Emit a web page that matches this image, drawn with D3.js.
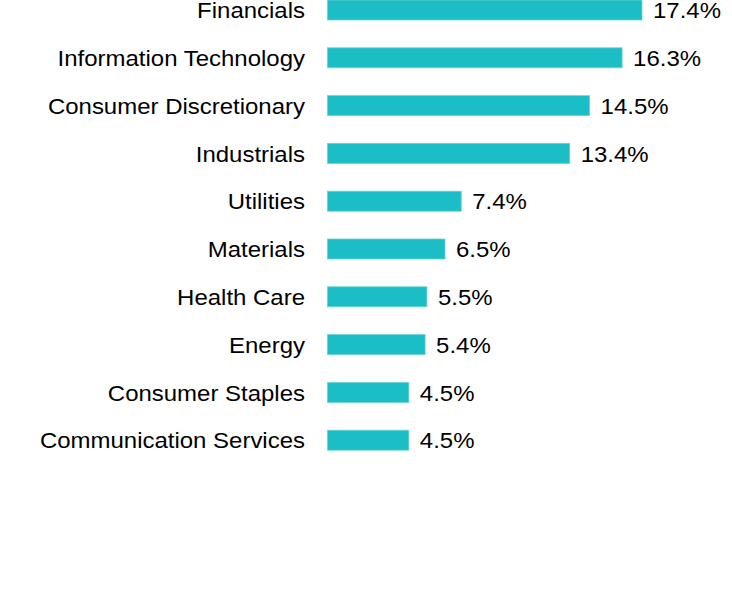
<!DOCTYPE html>
<html>
<head>
<meta charset="utf-8">
<script src="https://cdn.jsdelivr.net/npm/d3@7"></script>
<style>
  html, body { margin: 0; padding: 0; background: #fff; }
  svg text { font-family: "Liberation Sans", Arial, sans-serif; fill: #000; }
</style>
</head>
<body>
<svg id="chart" width="732" height="600"></svg>
<script>
const categories = ["Financials", "Information Technology", "Consumer Discretionary", "Industrials", "Utilities", "Materials", "Health Care", "Energy", "Consumer Staples", "Communication Services"];
const values = [17.4, 16.3, 14.5, 13.4, 7.4, 6.5, 5.5, 5.4, 4.5, 4.5];
const valueLabels = ["17.4%", "16.3%", "14.5%", "13.4%", "7.4%", "6.5%", "5.5%", "5.4%", "4.5%", "4.5%"];

const svg = d3.select("#chart");
const fontSize = 22;
const sx = 1.09;

const x = d3.scaleLinear().domain([0, 17.4]).range([327.5, 642]);
const y = d3.scaleBand().domain(categories).range([0, 450.2]).paddingInner(0.5816).paddingOuter(0);

const rows = categories.map((c, i) => ({ c, v: values[i], l: valueLabels[i] }));

svg.selectAll("rect.bar").data(rows).enter().append("rect")
  .attr("class", "bar")
  .attr("x", x(0))
  .attr("y", d => y(d.c))
  .attr("width", d => x(d.v) - x(0))
  .attr("height", y.bandwidth())
  .attr("fill", "#1bbec4")
  .attr("stroke", "#6fd3d6")
  .attr("stroke-width", 0.8);

svg.selectAll("text.cat").data(rows).enter().append("text")
  .attr("class", "cat")
  .attr("text-anchor", "end")
  .attr("dominant-baseline", "central")
  .attr("font-size", fontSize)
  .attr("transform", d => `translate(305,${y(d.c) + y.bandwidth() / 2 + 0.5}) scale(${sx},1)`)
  .text(d => d.c);

svg.selectAll("text.val").data(rows).enter().append("text")
  .attr("class", "val")
  .attr("text-anchor", "start")
  .attr("dominant-baseline", "central")
  .attr("font-size", fontSize)
  .attr("transform", d => `translate(${x(d.v) + 11},${y(d.c) + y.bandwidth() / 2 + 0.5}) scale(${sx},1)`)
  .text(d => d.l);
</script>
</body>
</html>
